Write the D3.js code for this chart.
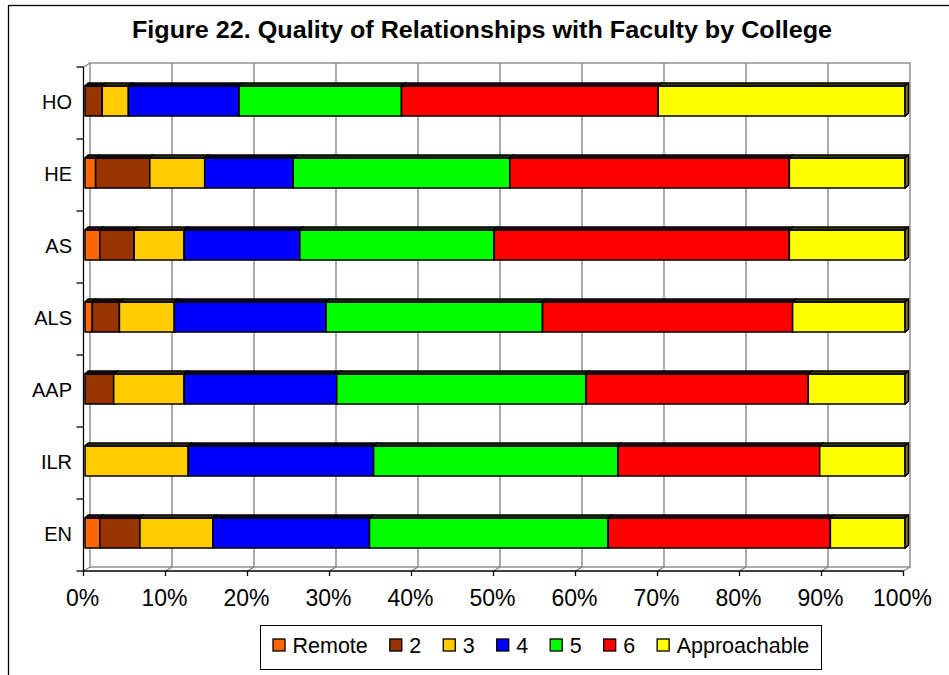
<!DOCTYPE html>
<html>
<head>
<meta charset="utf-8">
<script src="https://cdn.jsdelivr.net/npm/d3@7"></script>
<style>
  body { margin: 0; background: #fff; }
  svg text { font-family: "Liberation Sans", Arial, sans-serif; fill: #000; }
</style>
</head>
<body>
<div id="grafica"></div>
<script>
// Colleges, top to bottom
var colleges = ["HO", "HE", "AS", "ALS", "AAP", "ILR", "EN"];
// Rating categories (legend order)
var ratings = ["Remote", "2", "3", "4", "5", "6", "Approachable"];
var ratingColors = ["#FF6600", "#993300", "#FFCC00", "#0000FF", "#00FF00", "#FF0000", "#FFFF00"];
// Percent of respondents per rating, one array per college
var pctHO  = [0.0, 2.1, 3.2, 13.5, 19.8, 31.3, 30.1];
var pctHE  = [1.3, 6.6, 6.7, 10.8, 26.4, 34.1, 14.1];
var pctAS  = [1.8, 4.2, 6.1, 14.1, 23.7, 36.0, 14.1];
var pctALS = [0.9, 3.3, 6.7, 18.5, 26.4, 30.5, 13.7];
var pctAAP = [0.0, 3.5, 8.6, 18.6, 30.4, 27.1, 11.8];
var pctILR = [0.0, 0.0, 12.6, 22.6, 29.8, 24.6, 10.4];
var pctEN  = [1.8, 4.9, 8.9, 19.1, 29.1, 27.1, 9.1];
var xTicks = [0, 10, 20, 30, 40, 50, 60, 70, 80, 90, 100];

var valores = [pctHO, pctHE, pctAS, pctALS, pctAAP, pctILR, pctEN];

function dibujarGrafica() {
    var ancho = 949, altura = 675;
    // 3D depth of the back wall and of the bars
    var fondo = { dx: 6.5, dy: -4 },
        barra = { dx: 3.5, dy: -3, off: 1.5 };

    var svg = d3.select("#grafica").append("svg")
        .attr("width", ancho)
        .attr("height", altura);

    // Outer chart frame (runs off the right and bottom of the picture)
    svg.append("rect")
        .attr("x", 8.5).attr("y", 5.5)
        .attr("width", 1000).attr("height", 800)
        .attr("fill", "none")
        .attr("stroke", "#000")
        .attr("stroke-width", 1.3);

    var x = d3.scaleLinear().domain([0, 100]).range([83.5, 903.5]);
    var y = d3.scaleBand().domain(colleges).range([67, 571]);

    // Back wall with gridlines
    var pared = svg.append("g").attr("stroke", "#808080").attr("stroke-width", 1.3).attr("fill", "none");
    pared.append("rect")
        .attr("x", x(0) + fondo.dx)
        .attr("y", y.range()[0] + fondo.dy)
        .attr("width", x(100) - x(0))
        .attr("height", y.range()[1] - y.range()[0]);
    pared.selectAll("line.grid")
        .data(xTicks.slice(1, -1))
        .enter().append("line")
        .attr("class", "grid")
        .attr("x1", function (d) { return x(d) + fondo.dx; })
        .attr("x2", function (d) { return x(d) + fondo.dx; })
        .attr("y1", y.range()[0] + fondo.dy)
        .attr("y2", y.range()[1] + fondo.dy);
    // Floor diagonals
    pared.selectAll("line.piso")
        .data(xTicks)
        .enter().append("line")
        .attr("class", "piso")
        .attr("x1", function (d) { return x(d); })
        .attr("x2", function (d) { return x(d) + fondo.dx; })
        .attr("y1", y.range()[1])
        .attr("y2", y.range()[1] + fondo.dy);
    pared.append("line")
        .attr("x1", x(0)).attr("x2", x(0) + fondo.dx)
        .attr("y1", y.range()[0]).attr("y2", y.range()[0] + fondo.dy);

    // Front axes
    var ejes = svg.append("g").attr("stroke", "#000").attr("stroke-width", 1.3);
    ejes.append("line")
        .attr("x1", x(0)).attr("x2", x(0))
        .attr("y1", y.range()[0]).attr("y2", y.range()[1]);
    ejes.append("line")
        .attr("x1", x(0)).attr("x2", x(100))
        .attr("y1", y.range()[1]).attr("y2", y.range()[1]);
    var bordes = colleges.map(function (c) { return y(c); }).concat([y.range()[1]]);
    ejes.selectAll("line.ty")
        .data(bordes)
        .enter().append("line")
        .attr("class", "ty")
        .attr("x1", x(0) - 7).attr("x2", x(0))
        .attr("y1", function (d) { return d; })
        .attr("y2", function (d) { return d; });
    ejes.selectAll("line.tx")
        .data(xTicks)
        .enter().append("line")
        .attr("class", "tx")
        .attr("x1", function (d) { return x(d); })
        .attr("x2", function (d) { return x(d); })
        .attr("y1", y.range()[1]).attr("y2", y.range()[1] + 5);

    // Stacked segments for each college
    var alto = y.bandwidth() * 0.42;
    var filas = colleges.map(function (c, i) {
        var acum = 0;
        return valores[i].map(function (v, j) {
            var s = { college: c, rating: ratings[j], color: ratingColors[j], v0: acum, v1: acum + v };
            acum += v;
            return s;
        }).filter(function (s) { return s.v1 > s.v0; });
    });

    var fila = svg.selectAll("g.fila")
        .data(filas)
        .enter().append("g")
        .attr("class", "fila");

    var seg = fila.selectAll("g.seg")
        .data(function (d) { return d; })
        .enter().append("g")
        .attr("class", "seg")
        .attr("stroke", "#000")
        .attr("stroke-width", 1.5)
        .attr("stroke-linejoin", "round");

    function geo(d) {
        var y0 = y(d.college) + y.bandwidth() / 2 - 2 - alto / 2;
        return { xa: x(d.v0) + barra.off, xb: x(d.v1) + barra.off, y0: y0, y1: y0 + alto };
    }

    seg.append("rect")
        .attr("x", function (d) { return geo(d).xa; })
        .attr("y", function (d) { return geo(d).y0; })
        .attr("width", function (d) { var g = geo(d); return g.xb - g.xa; })
        .attr("height", alto)
        .attr("fill", function (d) { return d.color; });

    // Top face, nearly black at this size
    seg.append("path")
        .attr("fill", function (d) { return d3.color(d.color).darker(4); })
        .attr("d", function (d) {
            var g = geo(d);
            return "M" + g.xa + "," + g.y0 + "L" + (g.xa + barra.dx) + "," + (g.y0 + barra.dy) +
                "L" + (g.xb + barra.dx) + "," + (g.y0 + barra.dy) + "L" + g.xb + "," + g.y0 + "Z";
        });

    // Right face
    seg.append("path")
        .attr("fill", function (d) { return d3.color(d.color).darker(2); })
        .attr("d", function (d) {
            var g = geo(d);
            return "M" + g.xb + "," + g.y0 + "L" + (g.xb + barra.dx) + "," + (g.y0 + barra.dy) +
                "L" + (g.xb + barra.dx) + "," + (g.y1 + barra.dy) + "L" + g.xb + "," + g.y1 + "Z";
        });

    // Category labels
    svg.selectAll("text.cat")
        .data(colleges)
        .enter().append("text")
        .attr("class", "cat")
        .attr("x", 72)
        .attr("y", function (d) { return y(d) + y.bandwidth() / 2 + 6; })
        .attr("text-anchor", "end")
        .style("font-size", "20px")
        .text(function (d) { return d; });

    // Percent labels
    svg.selectAll("text.pct")
        .data(xTicks)
        .enter().append("text")
        .attr("class", "pct")
        .attr("x", function (d) { return x(d) - 1; })
        .attr("y", 606)
        .attr("text-anchor", "middle")
        .style("font-size", "23px")
        .text(function (d) { return d + "%"; });

    // Title
    svg.append("text")
        .attr("x", 482)
        .attr("y", 38)
        .attr("text-anchor", "middle")
        .style("font-size", "24px")
        .style("font-weight", "bold")
        .attr("textLength", 700)
        .attr("lengthAdjust", "spacingAndGlyphs")
        .text("Figure 22. Quality of Relationships with Faculty by College");

    // Legend
    var leyenda = svg.append("g");
    leyenda.append("rect")
        .attr("x", 260.5).attr("y", 625.5)
        .attr("width", 561).attr("height", 44)
        .attr("fill", "#fff")
        .attr("stroke", "#000")
        .attr("stroke-width", 1);
    var cursor = 273;
    ratings.forEach(function (r, i) {
        leyenda.append("rect")
            .attr("x", cursor).attr("y", 639)
            .attr("width", 12).attr("height", 12)
            .attr("fill", ratingColors[i])
            .attr("stroke", "#000")
            .attr("stroke-width", 1.3);
        var t = leyenda.append("text")
            .attr("x", cursor + 19.5)
            .attr("y", 652.5)
            .style("font-size", "21.5px")
            .text(r);
        cursor += 19.5 + t.node().getComputedTextLength() + 22;
    });
}

dibujarGrafica();
</script>
</body>
</html>
